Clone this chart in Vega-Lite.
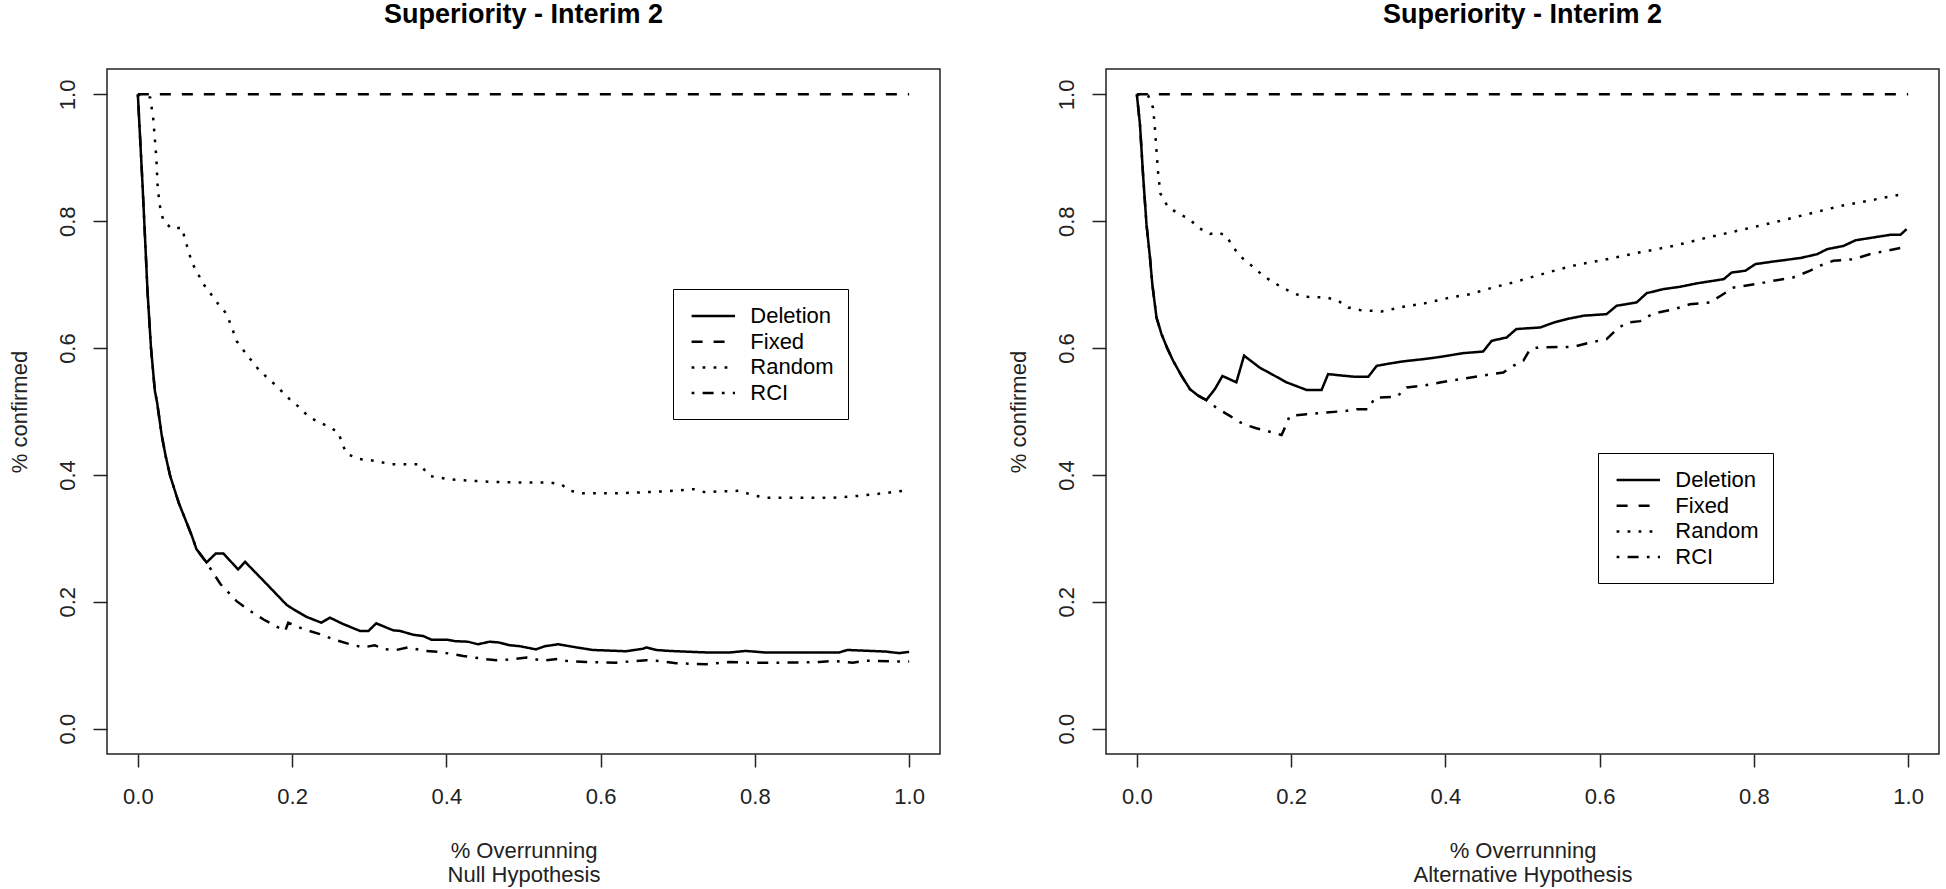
{
  "$schema": "https://vega.github.io/schema/vega-lite/v6.json",
  "background": "white",
  "autosize": {"type": "pad"},
  "padding": {"left": 7, "top": 0, "right": 4, "bottom": 4},
  "spacing": 166,
  "bounds": "flush",
  "resolve": {"scale": {"strokeDash": "independent"}, "legend": {"strokeDash": "independent"}},
  "config": {
    "font": "Liberation Sans",
    "view": {"stroke": "#222", "strokeWidth": 1.5},
    "axis": {"grid": false, "domain": false, "tickColor": "#222", "tickWidth": 1.5, "labelFont": "Liberation Sans", "labelFontSize": 22, "labelColor": "#222", "titleFont": "Liberation Sans", "titleFontSize": 22, "titleFontWeight": "normal", "titleColor": "#222", "labelFlush": false, "labelOverlap": false, "labelBound": false},
    "axisX": {"tickSize": 13, "labelPadding": 19, "titleY": 86, "titleBaseline": "top", "titleLineHeight": 24, "labelAngle": 0},
    "axisY": {"tickSize": 14, "labelAngle": 270, "labelAlign": "center", "labelBaseline": "alphabetic", "labelPadding": 18.3, "titleX": -80.5, "titleAngle": 270, "titleBaseline": "alphabetic", "titleAlign": "center"},
    "title": {"font": "Liberation Sans", "fontSize": 27, "fontWeight": "bold", "color": "black", "anchor": "middle", "frame": "group", "baseline": "alphabetic", "offset": 40},
    "legend": {"title": null, "symbolType": "M-2,0H2", "symbolSize": 471, "symbolStrokeWidth": 2.5, "symbolStrokeColor": "black", "symbolOffset": 13.3, "labelOffset": 24.5, "labelFontSize": 22, "labelFont": "Liberation Sans", "labelColor": "black", "padding": 14.5, "rowPadding": 1.7, "strokeColor": "black", "fillColor": "white"}
  },
  "datasets": {
    "nullh": [
      {"x":0,"y":1,"method":"Fixed"},{"x":1,"y":1,"method":"Fixed"},
      {"x":0,"y":1,"method":"Deletion"},{"x":0.002,"y":0.953,"method":"Deletion"},{"x":0.006,"y":0.859,"method":"Deletion"},{"x":0.0095,"y":0.769,"method":"Deletion"},{"x":0.0125,"y":0.69,"method":"Deletion"},{"x":0.017,"y":0.601,"method":"Deletion"},{"x":0.022,"y":0.533,"method":"Deletion"},{"x":0.025,"y":0.514,"method":"Deletion"},{"x":0.031,"y":0.462,"method":"Deletion"},{"x":0.036,"y":0.43,"method":"Deletion"},{"x":0.042,"y":0.398,"method":"Deletion"},{"x":0.053,"y":0.356,"method":"Deletion"},{"x":0.07,"y":0.304,"method":"Deletion"},{"x":0.076,"y":0.283,"method":"Deletion"},{"x":0.089,"y":0.262,"method":"Deletion"},{"x":0.101,"y":0.276,"method":"Deletion"},{"x":0.111,"y":0.276,"method":"Deletion"},{"x":0.13,"y":0.251,"method":"Deletion"},{"x":0.139,"y":0.263,"method":"Deletion"},{"x":0.167,"y":0.228,"method":"Deletion"},{"x":0.193,"y":0.195,"method":"Deletion"},{"x":0.202,"y":0.188,"method":"Deletion"},{"x":0.219,"y":0.176,"method":"Deletion"},{"x":0.238,"y":0.167,"method":"Deletion"},{"x":0.249,"y":0.175,"method":"Deletion"},{"x":0.266,"y":0.165,"method":"Deletion"},{"x":0.288,"y":0.154,"method":"Deletion"},{"x":0.299,"y":0.154,"method":"Deletion"},{"x":0.309,"y":0.166,"method":"Deletion"},{"x":0.331,"y":0.155,"method":"Deletion"},{"x":0.34,"y":0.154,"method":"Deletion"},{"x":0.357,"y":0.148,"method":"Deletion"},{"x":0.37,"y":0.146,"method":"Deletion"},{"x":0.381,"y":0.14,"method":"Deletion"},{"x":0.402,"y":0.14,"method":"Deletion"},{"x":0.411,"y":0.138,"method":"Deletion"},{"x":0.428,"y":0.137,"method":"Deletion"},{"x":0.441,"y":0.133,"method":"Deletion"},{"x":0.456,"y":0.137,"method":"Deletion"},{"x":0.467,"y":0.136,"method":"Deletion"},{"x":0.482,"y":0.1315,"method":"Deletion"},{"x":0.495,"y":0.13,"method":"Deletion"},{"x":0.516,"y":0.125,"method":"Deletion"},{"x":0.528,"y":0.13,"method":"Deletion"},{"x":0.545,"y":0.133,"method":"Deletion"},{"x":0.569,"y":0.128,"method":"Deletion"},{"x":0.59,"y":0.124,"method":"Deletion"},{"x":0.633,"y":0.122,"method":"Deletion"},{"x":0.655,"y":0.126,"method":"Deletion"},{"x":0.659,"y":0.128,"method":"Deletion"},{"x":0.672,"y":0.124,"method":"Deletion"},{"x":0.689,"y":0.1225,"method":"Deletion"},{"x":0.739,"y":0.12,"method":"Deletion"},{"x":0.767,"y":0.12,"method":"Deletion"},{"x":0.788,"y":0.1225,"method":"Deletion"},{"x":0.814,"y":0.12,"method":"Deletion"},{"x":0.851,"y":0.12,"method":"Deletion"},{"x":0.909,"y":0.12,"method":"Deletion"},{"x":0.92,"y":0.124,"method":"Deletion"},{"x":0.97,"y":0.1215,"method":"Deletion"},{"x":0.987,"y":0.119,"method":"Deletion"},{"x":1,"y":0.121,"method":"Deletion"},
      {"x":0,"y":1,"method":"RCI"},{"x":0.002,"y":0.953,"method":"RCI"},{"x":0.006,"y":0.859,"method":"RCI"},{"x":0.0095,"y":0.769,"method":"RCI"},{"x":0.0125,"y":0.69,"method":"RCI"},{"x":0.017,"y":0.601,"method":"RCI"},{"x":0.022,"y":0.533,"method":"RCI"},{"x":0.025,"y":0.514,"method":"RCI"},{"x":0.031,"y":0.462,"method":"RCI"},{"x":0.036,"y":0.43,"method":"RCI"},{"x":0.042,"y":0.398,"method":"RCI"},{"x":0.053,"y":0.356,"method":"RCI"},{"x":0.07,"y":0.304,"method":"RCI"},{"x":0.076,"y":0.283,"method":"RCI"},{"x":0.089,"y":0.262,"method":"RCI"},{"x":0.107,"y":0.228,"method":"RCI"},{"x":0.128,"y":0.201,"method":"RCI"},{"x":0.145,"y":0.186,"method":"RCI"},{"x":0.163,"y":0.172,"method":"RCI"},{"x":0.18,"y":0.161,"method":"RCI"},{"x":0.191,"y":0.154,"method":"RCI"},{"x":0.195,"y":0.167,"method":"RCI"},{"x":0.2145,"y":0.157,"method":"RCI"},{"x":0.236,"y":0.149,"method":"RCI"},{"x":0.253,"y":0.141,"method":"RCI"},{"x":0.275,"y":0.133,"method":"RCI"},{"x":0.292,"y":0.128,"method":"RCI"},{"x":0.307,"y":0.1315,"method":"RCI"},{"x":0.318,"y":0.1256,"method":"RCI"},{"x":0.335,"y":0.124,"method":"RCI"},{"x":0.35,"y":0.128,"method":"RCI"},{"x":0.374,"y":0.1225,"method":"RCI"},{"x":0.391,"y":0.121,"method":"RCI"},{"x":0.422,"y":0.1146,"method":"RCI"},{"x":0.448,"y":0.11,"method":"RCI"},{"x":0.465,"y":0.108,"method":"RCI"},{"x":0.48,"y":0.109,"method":"RCI"},{"x":0.504,"y":0.112,"method":"RCI"},{"x":0.525,"y":0.107,"method":"RCI"},{"x":0.545,"y":0.11,"method":"RCI"},{"x":0.555,"y":0.107,"method":"RCI"},{"x":0.581,"y":0.105,"method":"RCI"},{"x":0.62,"y":0.104,"method":"RCI"},{"x":0.659,"y":0.108,"method":"RCI"},{"x":0.672,"y":0.107,"method":"RCI"},{"x":0.698,"y":0.103,"method":"RCI"},{"x":0.737,"y":0.1015,"method":"RCI"},{"x":0.767,"y":0.105,"method":"RCI"},{"x":0.793,"y":0.104,"method":"RCI"},{"x":0.836,"y":0.104,"method":"RCI"},{"x":0.884,"y":0.105,"method":"RCI"},{"x":0.901,"y":0.107,"method":"RCI"},{"x":0.927,"y":0.104,"method":"RCI"},{"x":0.944,"y":0.107,"method":"RCI"},{"x":0.993,"y":0.1057,"method":"RCI"},{"x":1,"y":0.106,"method":"RCI"},
      {"x":0,"y":1,"method":"Random"},{"x":0.016,"y":0.995,"method":"Random"},{"x":0.02,"y":0.961,"method":"Random"},{"x":0.024,"y":0.9,"method":"Random"},{"x":0.0255,"y":0.859,"method":"Random"},{"x":0.028,"y":0.827,"method":"Random"},{"x":0.033,"y":0.801,"method":"Random"},{"x":0.044,"y":0.788,"method":"Random"},{"x":0.057,"y":0.79,"method":"Random"},{"x":0.063,"y":0.764,"method":"Random"},{"x":0.07,"y":0.735,"method":"Random"},{"x":0.085,"y":0.701,"method":"Random"},{"x":0.1045,"y":0.669,"method":"Random"},{"x":0.115,"y":0.654,"method":"Random"},{"x":0.122,"y":0.632,"method":"Random"},{"x":0.128,"y":0.611,"method":"Random"},{"x":0.141,"y":0.59,"method":"Random"},{"x":0.158,"y":0.564,"method":"Random"},{"x":0.18,"y":0.54,"method":"Random"},{"x":0.197,"y":0.519,"method":"Random"},{"x":0.21,"y":0.506,"method":"Random"},{"x":0.221,"y":0.492,"method":"Random"},{"x":0.232,"y":0.485,"method":"Random"},{"x":0.249,"y":0.475,"method":"Random"},{"x":0.26,"y":0.467,"method":"Random"},{"x":0.266,"y":0.446,"method":"Random"},{"x":0.271,"y":0.433,"method":"Random"},{"x":0.288,"y":0.425,"method":"Random"},{"x":0.309,"y":0.422,"method":"Random"},{"x":0.327,"y":0.417,"method":"Random"},{"x":0.3655,"y":0.417,"method":"Random"},{"x":0.378,"y":0.3985,"method":"Random"},{"x":0.404,"y":0.393,"method":"Random"},{"x":0.43,"y":0.391,"method":"Random"},{"x":0.4605,"y":0.389,"method":"Random"},{"x":0.491,"y":0.388,"method":"Random"},{"x":0.534,"y":0.388,"method":"Random"},{"x":0.549,"y":0.385,"method":"Random"},{"x":0.56,"y":0.375,"method":"Random"},{"x":0.577,"y":0.371,"method":"Random"},{"x":0.62,"y":0.371,"method":"Random"},{"x":0.663,"y":0.373,"method":"Random"},{"x":0.694,"y":0.375,"method":"Random"},{"x":0.721,"y":0.3775,"method":"Random"},{"x":0.734,"y":0.373,"method":"Random"},{"x":0.78,"y":0.375,"method":"Random"},{"x":0.797,"y":0.368,"method":"Random"},{"x":0.814,"y":0.364,"method":"Random"},{"x":0.857,"y":0.364,"method":"Random"},{"x":0.901,"y":0.364,"method":"Random"},{"x":0.935,"y":0.367,"method":"Random"},{"x":0.966,"y":0.371,"method":"Random"},{"x":1,"y":0.376,"method":"Random"}
    ],
    "alth": [
      {"x":0,"y":1,"method":"Fixed"},{"x":1,"y":1,"method":"Fixed"},
      {"x":0,"y":1,"method":"Deletion"},{"x":0.004,"y":0.953,"method":"Deletion"},{"x":0.008,"y":0.874,"method":"Deletion"},{"x":0.0125,"y":0.795,"method":"Deletion"},{"x":0.017,"y":0.743,"method":"Deletion"},{"x":0.02,"y":0.701,"method":"Deletion"},{"x":0.0255,"y":0.648,"method":"Deletion"},{"x":0.032,"y":0.622,"method":"Deletion"},{"x":0.039,"y":0.601,"method":"Deletion"},{"x":0.047,"y":0.58,"method":"Deletion"},{"x":0.058,"y":0.556,"method":"Deletion"},{"x":0.069,"y":0.535,"method":"Deletion"},{"x":0.0795,"y":0.525,"method":"Deletion"},{"x":0.09,"y":0.518,"method":"Deletion"},{"x":0.101,"y":0.535,"method":"Deletion"},{"x":0.111,"y":0.556,"method":"Deletion"},{"x":0.129,"y":0.546,"method":"Deletion"},{"x":0.139,"y":0.588,"method":"Deletion"},{"x":0.1595,"y":0.569,"method":"Deletion"},{"x":0.1747,"y":0.559,"method":"Deletion"},{"x":0.194,"y":0.546,"method":"Deletion"},{"x":0.22,"y":0.534,"method":"Deletion"},{"x":0.2395,"y":0.534,"method":"Deletion"},{"x":0.248,"y":0.559,"method":"Deletion"},{"x":0.263,"y":0.557,"method":"Deletion"},{"x":0.283,"y":0.5547,"method":"Deletion"},{"x":0.3,"y":0.5547,"method":"Deletion"},{"x":0.311,"y":0.572,"method":"Deletion"},{"x":0.328,"y":0.5757,"method":"Deletion"},{"x":0.345,"y":0.579,"method":"Deletion"},{"x":0.371,"y":0.5825,"method":"Deletion"},{"x":0.393,"y":0.586,"method":"Deletion"},{"x":0.423,"y":0.592,"method":"Deletion"},{"x":0.449,"y":0.5946,"method":"Deletion"},{"x":0.46,"y":0.6115,"method":"Deletion"},{"x":0.4795,"y":0.6167,"method":"Deletion"},{"x":0.492,"y":0.63,"method":"Deletion"},{"x":0.523,"y":0.6325,"method":"Deletion"},{"x":0.54,"y":0.64,"method":"Deletion"},{"x":0.557,"y":0.6456,"method":"Deletion"},{"x":0.579,"y":0.651,"method":"Deletion"},{"x":0.609,"y":0.6535,"method":"Deletion"},{"x":0.622,"y":0.6667,"method":"Deletion"},{"x":0.648,"y":0.672,"method":"Deletion"},{"x":0.661,"y":0.6866,"method":"Deletion"},{"x":0.683,"y":0.693,"method":"Deletion"},{"x":0.704,"y":0.6966,"method":"Deletion"},{"x":0.726,"y":0.702,"method":"Deletion"},{"x":0.761,"y":0.7087,"method":"Deletion"},{"x":0.771,"y":0.719,"method":"Deletion"},{"x":0.789,"y":0.722,"method":"Deletion"},{"x":0.802,"y":0.7324,"method":"Deletion"},{"x":0.826,"y":0.7366,"method":"Deletion"},{"x":0.8603,"y":0.742,"method":"Deletion"},{"x":0.882,"y":0.748,"method":"Deletion"},{"x":0.895,"y":0.756,"method":"Deletion"},{"x":0.916,"y":0.761,"method":"Deletion"},{"x":0.932,"y":0.77,"method":"Deletion"},{"x":0.9555,"y":0.7745,"method":"Deletion"},{"x":0.977,"y":0.7786,"method":"Deletion"},{"x":0.99,"y":0.7786,"method":"Deletion"},{"x":0.998,"y":0.7876,"method":"Deletion"},
      {"x":0,"y":1,"method":"RCI"},{"x":0.004,"y":0.953,"method":"RCI"},{"x":0.008,"y":0.874,"method":"RCI"},{"x":0.0125,"y":0.795,"method":"RCI"},{"x":0.017,"y":0.743,"method":"RCI"},{"x":0.02,"y":0.701,"method":"RCI"},{"x":0.0255,"y":0.648,"method":"RCI"},{"x":0.032,"y":0.622,"method":"RCI"},{"x":0.039,"y":0.601,"method":"RCI"},{"x":0.047,"y":0.58,"method":"RCI"},{"x":0.058,"y":0.556,"method":"RCI"},{"x":0.069,"y":0.535,"method":"RCI"},{"x":0.0795,"y":0.525,"method":"RCI"},{"x":0.09,"y":0.518,"method":"RCI"},{"x":0.103,"y":0.506,"method":"RCI"},{"x":0.1206,"y":0.493,"method":"RCI"},{"x":0.138,"y":0.48,"method":"RCI"},{"x":0.155,"y":0.4737,"method":"RCI"},{"x":0.1725,"y":0.468,"method":"RCI"},{"x":0.1876,"y":0.463,"method":"RCI"},{"x":0.194,"y":0.48,"method":"RCI"},{"x":0.198,"y":0.493,"method":"RCI"},{"x":0.22,"y":0.4958,"method":"RCI"},{"x":0.2417,"y":0.498,"method":"RCI"},{"x":0.272,"y":0.501,"method":"RCI"},{"x":0.285,"y":0.5037,"method":"RCI"},{"x":0.3,"y":0.5037,"method":"RCI"},{"x":0.3087,"y":0.522,"method":"RCI"},{"x":0.3368,"y":0.523,"method":"RCI"},{"x":0.35,"y":0.538,"method":"RCI"},{"x":0.371,"y":0.5405,"method":"RCI"},{"x":0.393,"y":0.5457,"method":"RCI"},{"x":0.419,"y":0.551,"method":"RCI"},{"x":0.445,"y":0.556,"method":"RCI"},{"x":0.475,"y":0.5615,"method":"RCI"},{"x":0.488,"y":0.572,"method":"RCI"},{"x":0.501,"y":0.58,"method":"RCI"},{"x":0.5097,"y":0.598,"method":"RCI"},{"x":0.5205,"y":0.601,"method":"RCI"},{"x":0.566,"y":0.602,"method":"RCI"},{"x":0.588,"y":0.609,"method":"RCI"},{"x":0.609,"y":0.614,"method":"RCI"},{"x":0.6225,"y":0.63,"method":"RCI"},{"x":0.635,"y":0.64,"method":"RCI"},{"x":0.6525,"y":0.6425,"method":"RCI"},{"x":0.6696,"y":0.6546,"method":"RCI"},{"x":0.6956,"y":0.661,"method":"RCI"},{"x":0.717,"y":0.669,"method":"RCI"},{"x":0.743,"y":0.672,"method":"RCI"},{"x":0.757,"y":0.6825,"method":"RCI"},{"x":0.774,"y":0.6956,"method":"RCI"},{"x":0.8036,"y":0.701,"method":"RCI"},{"x":0.825,"y":0.706,"method":"RCI"},{"x":0.851,"y":0.7114,"method":"RCI"},{"x":0.873,"y":0.722,"method":"RCI"},{"x":0.886,"y":0.73,"method":"RCI"},{"x":0.903,"y":0.7376,"method":"RCI"},{"x":0.929,"y":0.74,"method":"RCI"},{"x":0.95,"y":0.748,"method":"RCI"},{"x":0.972,"y":0.7534,"method":"RCI"},{"x":0.994,"y":0.7587,"method":"RCI"},{"x":0.998,"y":0.764,"method":"RCI"},
      {"x":0,"y":1,"method":"Random"},{"x":0.0147,"y":0.998,"method":"Random"},{"x":0.021,"y":0.979,"method":"Random"},{"x":0.023,"y":0.953,"method":"Random"},{"x":0.0255,"y":0.911,"method":"Random"},{"x":0.0277,"y":0.874,"method":"Random"},{"x":0.0307,"y":0.843,"method":"Random"},{"x":0.0406,"y":0.822,"method":"Random"},{"x":0.0558,"y":0.811,"method":"Random"},{"x":0.0687,"y":0.803,"method":"Random"},{"x":0.0795,"y":0.79,"method":"Random"},{"x":0.0947,"y":0.78,"method":"Random"},{"x":0.1055,"y":0.7823,"method":"Random"},{"x":0.116,"y":0.777,"method":"Random"},{"x":0.125,"y":0.7587,"method":"Random"},{"x":0.1358,"y":0.743,"method":"Random"},{"x":0.1487,"y":0.73,"method":"Random"},{"x":0.164,"y":0.714,"method":"Random"},{"x":0.1768,"y":0.7035,"method":"Random"},{"x":0.2006,"y":0.6877,"method":"Random"},{"x":0.2157,"y":0.681,"method":"Random"},{"x":0.246,"y":0.6798,"method":"Random"},{"x":0.261,"y":0.6745,"method":"Random"},{"x":0.274,"y":0.664,"method":"Random"},{"x":0.289,"y":0.66,"method":"Random"},{"x":0.3173,"y":0.6577,"method":"Random"},{"x":0.3454,"y":0.665,"method":"Random"},{"x":0.371,"y":0.67,"method":"Random"},{"x":0.4038,"y":0.679,"method":"Random"},{"x":0.432,"y":0.685,"method":"Random"},{"x":0.462,"y":0.6956,"method":"Random"},{"x":0.488,"y":0.7035,"method":"Random"},{"x":0.518,"y":0.714,"method":"Random"},{"x":0.5486,"y":0.7245,"method":"Random"},{"x":0.566,"y":0.73,"method":"Random"},{"x":0.609,"y":0.74,"method":"Random"},{"x":0.6525,"y":0.751,"method":"Random"},{"x":0.6956,"y":0.761,"method":"Random"},{"x":0.739,"y":0.774,"method":"Random"},{"x":0.7825,"y":0.786,"method":"Random"},{"x":0.8255,"y":0.798,"method":"Random"},{"x":0.869,"y":0.811,"method":"Random"},{"x":0.912,"y":0.824,"method":"Random"},{"x":0.947,"y":0.832,"method":"Random"},{"x":0.99,"y":0.842,"method":"Random"}
    ]
  },
  "hconcat": [
    {
      "width": 833, "height": 685,
      "title": {"text": "Superiority - Interim 2"},
      "data": {"name": "nullh"},
      "mark": {"type": "line", "color": "black", "strokeWidth": 2.5},
      "encoding": {
        "x": {"field": "x", "type": "quantitative", "scale": {"domain": [-0.04, 1.04], "nice": false, "zero": false}, "axis": {"values": [0, 0.2, 0.4, 0.6, 0.8, 1], "format": ".1f", "title": ["% Overrunning", "Null Hypothesis"]}},
        "y": {"field": "y", "type": "quantitative", "scale": {"domain": [-0.04, 1.04], "nice": false, "zero": false}, "axis": {"values": [0, 0.2, 0.4, 0.6, 0.8, 1], "format": ".1f", "title": "% confirmed"}},
        "strokeDash": {"field": "method", "type": "nominal", "scale": {"domain": ["Deletion", "Fixed", "Random", "RCI"], "range": [[1, 0], [11, 11], [2.75, 8.25], [2.75, 8.25, 11, 8.25]]}, "legend": {"orient": "none", "legendX": 566, "legendY": 220}}
      }
    },
    {
      "width": 833, "height": 685,
      "title": {"text": "Superiority - Interim 2"},
      "data": {"name": "alth"},
      "mark": {"type": "line", "color": "black", "strokeWidth": 2.5},
      "encoding": {
        "x": {"field": "x", "type": "quantitative", "scale": {"domain": [-0.04, 1.04], "nice": false, "zero": false}, "axis": {"values": [0, 0.2, 0.4, 0.6, 0.8, 1], "format": ".1f", "title": ["% Overrunning", "Alternative Hypothesis"]}},
        "y": {"field": "y", "type": "quantitative", "scale": {"domain": [-0.04, 1.04], "nice": false, "zero": false}, "axis": {"values": [0, 0.2, 0.4, 0.6, 0.8, 1], "format": ".1f", "title": "% confirmed"}},
        "strokeDash": {"field": "method", "type": "nominal", "scale": {"domain": ["Deletion", "Fixed", "Random", "RCI"], "range": [[1, 0], [11, 11], [2.75, 8.25], [2.75, 8.25, 11, 8.25]]}, "legend": {"orient": "none", "legendX": 492, "legendY": 384}}
      }
    }
  ]
}
